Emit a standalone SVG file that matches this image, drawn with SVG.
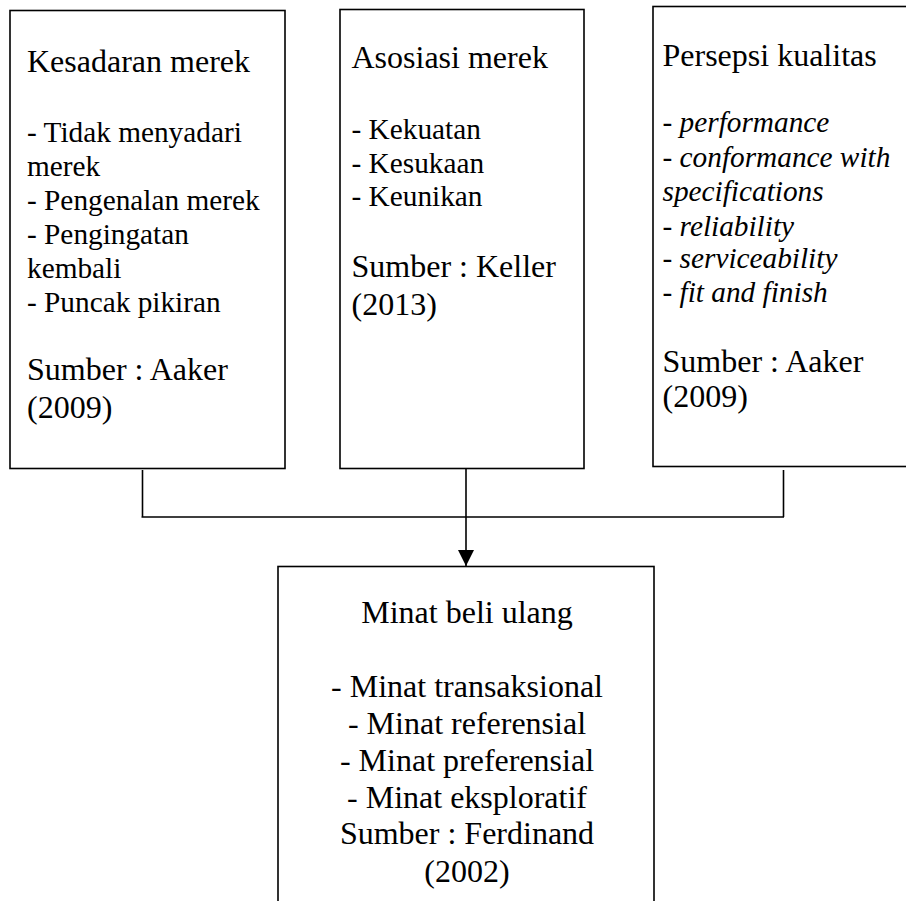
<svg xmlns="http://www.w3.org/2000/svg" width="906" height="901" viewBox="0 0 906 901">
<defs>
<style>
.box{fill:#fff;stroke:#000;stroke-width:1.6}
.t{font-family:"Liberation Serif","Times New Roman",serif;fill:#000}
.h{font-size:32px}
.l{font-size:29.3px}
.i{font-style:italic}
.c{text-anchor:middle}
.ln{stroke:#000;stroke-width:1.6;fill:none}
</style>
<marker id="arr" viewBox="0 0 16 16" refX="16" refY="8" markerWidth="16" markerHeight="16" markerUnits="userSpaceOnUse" orient="auto">
<path d="M0,0 L16,8 L0,16 Z" fill="#000"/>
</marker>
<clipPath id="clip4"><rect x="270" y="560" width="400" height="332"/></clipPath>
</defs>
<rect width="906" height="901" fill="#fff"/>
<g id="connectors">
<path class="ln" d="M142.5,470 V517 M141.5,517 H784 M783.5,470 V517"/>
<path class="ln" d="M466,469 V566" marker-end="url(#arr)"/>
</g>
<g id="kesadaran">
<rect class="box" x="10" y="10.5" width="275" height="458"/>
<text class="t h" x="27" y="71.7">Kesadaran merek</text>
<text class="t l" x="27" y="141.7">- Tidak menyadari</text>
<text class="t l" x="27" y="175.7">merek</text>
<text class="t l" x="27" y="209.5">- Pengenalan merek</text>
<text class="t l" x="27" y="243.5">- Pengingatan</text>
<text class="t l" x="27" y="277.5">kembali</text>
<text class="t l" x="27" y="311.5">- Puncak pikiran</text>
<text class="t h" x="27" y="380">Sumber : Aaker</text>
<text class="t h" x="27" y="418">(2009)</text>
</g>
<g id="asosiasi">
<rect class="box" x="340" y="9.5" width="244" height="459"/>
<text class="t h" x="351.5" y="68.3">Asosiasi merek</text>
<text class="t l" x="351.5" y="139.3">- Kekuatan</text>
<text class="t l" x="351.5" y="172.7">- Kesukaan</text>
<text class="t l" x="351.5" y="206">- Keunikan</text>
<text class="t h" x="351.5" y="276.7">Sumber : Keller</text>
<text class="t h" x="351.5" y="315">(2013)</text>
</g>
<g id="persepsi">
<rect class="box" x="653" y="6.5" width="270" height="460"/>
<text class="t h" x="662.5" y="66">Persepsi kualitas</text>
<text class="t l i" x="662.5" y="131.7">- performance</text>
<text class="t l i" x="662.5" y="166.5">- conformance with</text>
<text class="t l i" x="662.5" y="201.3">specifications</text>
<text class="t l i" x="662.5" y="235.5">- reliability</text>
<text class="t l i" x="662.5" y="268">- serviceability</text>
<text class="t l i" x="662.5" y="302">- fit and finish</text>
<text class="t h" x="662.5" y="371.7">Sumber : Aaker</text>
<text class="t h" x="662.5" y="406.7">(2009)</text>
</g>
<g id="minat">
<rect class="box" x="278" y="566.5" width="376" height="400"/>
<g clip-path="url(#clip4)">
<text class="t h c" x="467" y="623">Minat beli ulang</text>
<text class="t h c" x="467" y="697">- Minat transaksional</text>
<text class="t h c" x="467" y="733.5">- Minat referensial</text>
<text class="t h c" x="467" y="770.5">- Minat preferensial</text>
<text class="t h c" x="467" y="807.5">- Minat eksploratif</text>
<text class="t h c" x="467" y="844">Sumber : Ferdinand</text>
<text class="t h c" x="467" y="881.5">(2002)</text>
</g>
</g>
</svg>
